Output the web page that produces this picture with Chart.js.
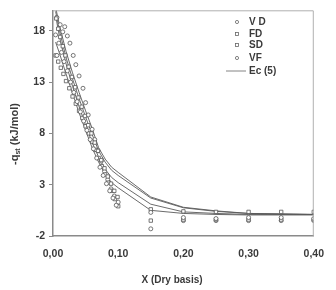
<!DOCTYPE html>
<html>
<head>
<meta charset="utf-8">
<script src="https://cdn.jsdelivr.net/npm/chart.js@4.4.1/dist/chart.umd.min.js"></script>
<style>
  html, body { margin: 0; padding: 0; background: #fff; }
  #wrap { position: relative; width: 336px; height: 290px; }
</style>
</head>
<body>
<div id="wrap"><canvas id="chart"></canvas></div>
<script>
// tick labels
const xTicks = [0, 0.1, 0.2, 0.3, 0.4];
const yTicks = [-2, 3, 8, 13, 18];

const vdX = [0.004, 0.006, 0.009, 0.013, 0.017, 0.022, 0.027, 0.032, 0.037, 0.042, 0.047, 0.052, 0.057, 0.062, 0.067, 0.072, 0.077, 0.082, 0.087, 0.092, 0.097, 0.15, 0.2, 0.25, 0.3, 0.35, 0.4];
const vdY = [17.6, 15.6, 16.8, 15.9, 15.0, 14.1, 13.0, 12.0, 11.1, 10.1, 9.2, 8.3, 7.4, 6.5, 5.6, 4.7, 3.9, 3.1, 2.4, 1.7, 1.0, 0.3, -0.2, -0.3, -0.2, -0.2, -0.3];

const fdX = [0.005, 0.008, 0.011, 0.015, 0.019, 0.024, 0.029, 0.034, 0.039, 0.044, 0.049, 0.054, 0.059, 0.064, 0.069, 0.074, 0.079, 0.084, 0.089, 0.094, 0.099, 0.15, 0.2, 0.25, 0.3, 0.35, 0.4];
const fdY = [19.2, 18.2, 17.4, 16.5, 15.6, 14.5, 13.5, 12.5, 11.5, 10.6, 9.7, 8.8, 8.0, 7.1, 6.3, 5.4, 4.6, 3.8, 3.1, 2.4, 1.8, 0.6, 0.4, 0.35, 0.35, 0.35, 0.35];

const sdX = [0.004, 0.008, 0.012, 0.016, 0.02, 0.025, 0.03, 0.035, 0.04, 0.045, 0.05, 0.055, 0.06, 0.065, 0.07, 0.075, 0.08, 0.085, 0.09, 0.095, 0.1, 0.15, 0.2, 0.25, 0.3, 0.35, 0.4];
const sdY = [15.6, 15.0, 14.4, 13.8, 13.1, 12.4, 11.6, 10.9, 10.2, 9.5, 8.7, 8.0, 7.2, 6.4, 5.6, 4.8, 4.0, 3.2, 2.4, 1.6, 0.9, -0.5, -0.4, -0.4, -0.4, -0.4, -0.4];

const vfX = [0.006, 0.011, 0.015, 0.018, 0.022, 0.026, 0.031, 0.035, 0.04, 0.046, 0.05, 0.054, 0.06, 0.064, 0.069, 0.074, 0.079, 0.084, 0.089, 0.094, 0.1, 0.15, 0.2, 0.25, 0.3, 0.35, 0.4];
const vfY = [19.3, 18.6, 17.9, 18.4, 17.5, 16.8, 15.6, 14.7, 13.6, 12.4, 11.0, 9.8, 8.4, 7.4, 6.3, 5.3, 4.3, 3.5, 2.6, 1.9, 1.3, -1.3, -0.5, -0.5, -0.5, -0.5, -0.5];

// Ec (5) model curves, one per drying method
const ecX = [0.004, 0.01, 0.02, 0.03, 0.04, 0.05, 0.06, 0.07, 0.08, 0.09, 0.1, 0.15, 0.2, 0.25, 0.3, 0.35, 0.4];
const ec1Y = [20.3, 18.5, 16.0, 13.9, 12.0, 10.2, 8.5, 6.6, 5.5, 4.7, 4.2, 1.8, 0.8, 0.45, 0.2, 0.15, 0.1];
const ec2Y = [19.9, 18.0, 15.4, 13.3, 11.4, 9.6, 7.9, 6.3, 5.2, 4.4, 3.9, 1.7, 0.75, 0.4, 0.2, 0.15, 0.1];
const ec3Y = [19.5, 17.4, 14.8, 12.6, 10.6, 8.8, 7.1, 5.7, 4.5, 3.7, 3.2, 1.1, 0.35, 0.2, 0.1, 0.1, 0.1];
const ec4Y = [16.9, 15.8, 13.8, 11.9, 10.0, 8.3, 6.6, 5.2, 4.0, 3.2, 2.7, 0.5, 0.2, 0.1, 0.05, 0.05, 0.05];

const TEXT = "#3a3a3a";
const AXIS = "#8a8a8a";
const FONT = "'Liberation Sans', Arial, sans-serif";

const pts = (xs, ys) => xs.map((x, i) => ({ x, y: ys[i] }));

function markerSet(label, xs, ys, style) {
  return {
    label,
    data: pts(xs, ys),
    showLine: false,
    pointStyle: style,
    pointRadius: style === "rect" ? 2.4 : 2,
    pointBorderWidth: 0.8,
    pointBorderColor: "#555",
    pointBackgroundColor: "#fff",
  };
}

function lineSet(ys, inLegend) {
  return {
    label: "Ec (5)",
    data: pts(ecX, ys),
    showLine: true,
    pointRadius: 0,
    borderColor: "#5a5a5a",
    borderWidth: 0.9,
    tension: 0,
    inLegend,
  };
}

const fmt = (v) => v.toFixed(2).replace(".", ",");

const decor = {
  id: "decor",
  afterDraw(chart) {
    const { ctx, chartArea: a } = chart;
    ctx.save();
    // top and right frame
    ctx.strokeStyle = "#b0b0b0";
    ctx.lineWidth = 1;
    ctx.beginPath();
    ctx.moveTo(a.left, a.top + 0.5);
    ctx.lineTo(a.right - 0.5, a.top + 0.5);
    ctx.lineTo(a.right - 0.5, a.bottom);
    ctx.stroke();

    // legend
    ctx.fillStyle = TEXT;
    ctx.font = "bold 10px " + FONT;
    ctx.textBaseline = "middle";
    const rows = [
      { t: "V D", s: "circle", y: 22 },
      { t: "FD", s: "rect", y: 34 },
      { t: "SD", s: "rect", y: 45 },
      { t: "VF", s: "circle", y: 58 },
      { t: "Ec (5)", s: "line", y: 71 },
    ];
    rows.forEach((r) => {
      ctx.strokeStyle = "#666";
      ctx.lineWidth = 0.8;
      if (r.s === "circle") {
        ctx.beginPath();
        ctx.arc(237, r.y, 1.6, 0, Math.PI * 2);
        ctx.stroke();
      } else if (r.s === "rect") {
        ctx.strokeRect(235.5, r.y - 1.5, 3, 3);
      } else {
        ctx.beginPath();
        ctx.moveTo(226, r.y);
        ctx.lineTo(246, r.y);
        ctx.stroke();
      }
      ctx.fillStyle = TEXT;
      ctx.textAlign = "left";
      ctx.fillText(r.t, 249, r.y);
    });

    // x title
    ctx.font = "bold 10px " + FONT;
    ctx.textAlign = "center";
    ctx.fillText("X (Dry basis)", 172, 280);

    // y title with subscript
    ctx.translate(15, 134);
    ctx.rotate(-Math.PI / 2);
    const big = "bold 11px " + FONT;
    const small = "bold 7px " + FONT;
    ctx.font = big;
    const w1 = ctx.measureText("-q").width;
    const w3 = ctx.measureText(" (kJ/mol)").width;
    ctx.font = small;
    const w2 = ctx.measureText("st").width;
    let x0 = -(w1 + w2 + w3) / 2;
    ctx.textAlign = "left";
    ctx.font = big;
    ctx.fillText("-q", x0, 0);
    ctx.font = small;
    ctx.fillText("st", x0 + w1, 3);
    ctx.font = big;
    ctx.fillText(" (kJ/mol)", x0 + w1 + w2, 0);
    ctx.restore();
  },
};

new Chart(document.getElementById("chart"), {
  type: "scatter",
  data: {
    datasets: [
      markerSet("V D", vdX, vdY, "circle"),
      markerSet("FD", fdX, fdY, "rect"),
      markerSet("SD", sdX, sdY, "rect"),
      markerSet("VF", vfX, vfY, "circle"),
      lineSet(ec1Y, true),
      lineSet(ec2Y, false),
      lineSet(ec3Y, false),
      lineSet(ec4Y, false),
    ],
  },
  options: {
    responsive: true,
    maintainAspectRatio: false,
    animation: false,
    layout: { padding: { top: 6, right: 21, left: 0, bottom: 0 } },
    plugins: { legend: { display: false }, tooltip: { enabled: false } },
    scales: {
      x: {
        type: "linear",
        min: 0,
        max: 0.4,
        afterBuildTicks: (s) => { s.ticks = xTicks.map((v) => ({ value: v })); },
        afterFit: (s) => { s.height = 54; },
        grid: { drawOnChartArea: false, drawTicks: false },
        border: { color: AXIS, width: 1.5 },
        ticks: {
          padding: 12,
          color: TEXT,
          font: { family: FONT, size: 10.5, weight: "bold" },
          callback: (v) => fmt(v),
          maxRotation: 0,
        },
      },
      y: {
        type: "linear",
        min: -2,
        max: 20,
        afterBuildTicks: (s) => { s.ticks = yTicks.map((v) => ({ value: v })); },
        afterFit: (s) => { s.width = 53; },
        grid: { drawOnChartArea: false, drawTicks: true, tickLength: 4, color: AXIS },
        border: { color: AXIS, width: 1.5 },
        ticks: {
          padding: 4,
          color: TEXT,
          font: { family: FONT, size: 10.5, weight: "bold" },
        },
      },
    },
  },
  plugins: [decor],
});
</script>
</body>
</html>
